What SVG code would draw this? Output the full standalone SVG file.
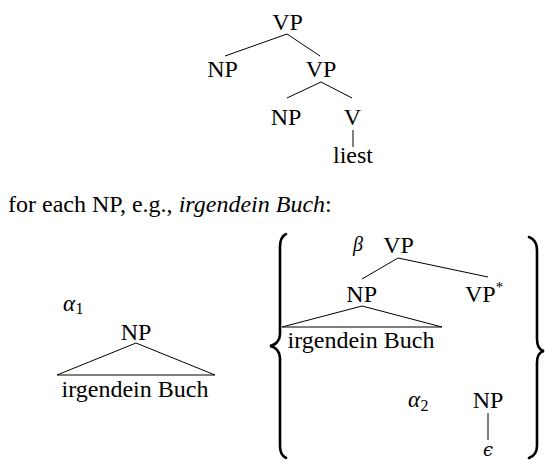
<svg xmlns="http://www.w3.org/2000/svg" width="545" height="460" viewBox="0 0 545 460">
<style>
text{font-family:'Liberation Serif','Tinos','Times New Roman',serif;font-size:24px;fill:#000}
.m{text-anchor:middle}
.it{font-style:italic}
.edge{stroke:#000;stroke-width:1;fill:none}
.brace{stroke:#000;stroke-width:2.6;fill:none;stroke-linecap:round}
</style>
<rect width="545" height="460" fill="#fff"/>
<g id="connectors">
<line class="edge" x1="287" y1="34" x2="225" y2="56"/>
<line class="edge" x1="287" y1="34" x2="320" y2="56"/>
<line class="edge" x1="321" y1="82" x2="287" y2="98"/>
<line class="edge" x1="321" y1="82" x2="352" y2="98"/>
<line class="edge" x1="353" y1="130" x2="353" y2="147"/>
<polygon class="edge" points="136,343 57,375 215,375"/>
<line class="edge" x1="398" y1="258" x2="362" y2="279"/>
<line class="edge" x1="398" y1="258" x2="488" y2="277"/>
<polygon class="edge" points="362,306 282,327 442,327"/>
<line class="edge" x1="488" y1="413" x2="488" y2="440"/>
</g>
<g id="vp-top"><text class="m" x="287.5" y="30">VP</text></g>
<g id="np-1"><text class="m" x="222.5" y="77">NP</text></g>
<g id="vp-mid"><text class="m" x="321" y="77">VP</text></g>
<g id="np-2"><text class="m" x="286" y="125">NP</text></g>
<g id="v"><text class="m" x="352.5" y="125">V</text></g>
<g id="liest"><text class="m" x="353" y="163">liest</text></g>
<g id="caption"><text x="8" y="212">for each NP, e.g., <tspan class="it">irgendein Buch</tspan>:</text></g>
<g id="alpha1">
<text class="it" x="63" y="311" style="font-size:23px">α</text>
<text x="75.5" y="314" style="font-size:16px">1</text>
</g>
<g id="alpha1-np"><text class="m" x="136" y="340">NP</text></g>
<g id="alpha1-yield"><text class="m" x="135" y="397">irgendein Buch</text></g>
<g id="braces">
<path class="brace" d="M286,234 C282,236 280,240 280,247 L280,334 C280,340 276,345 270,346 C276,347 280,352 280,358 L280,446 C280,452 282,456 286,458"/>
<path class="brace" d="M529,237 C534,239 537,243 537,250 L537,339 C537,345 539,350 544,351 C539,352 537,357 537,363 L537,446 C537,452 534,456 529,458"/>
</g>
<g id="beta"><text class="it" x="353" y="251" style="font-size:20px">β</text></g>
<g id="beta-vp"><text class="m" x="398.5" y="253">VP</text></g>
<g id="beta-np"><text class="m" x="361.7" y="302">NP</text></g>
<g id="beta-foot"><text x="465" y="302">VP<tspan style="font-size:15px" dy="-10">*</tspan></text></g>
<g id="beta-yield"><text class="m" x="361" y="348">irgendein Buch</text></g>
<g id="alpha2">
<text class="it" x="408" y="407" style="font-size:23px">α</text>
<text x="420.5" y="411" style="font-size:16px">2</text>
</g>
<g id="alpha2-np"><text class="m" x="488" y="408">NP</text></g>
<g id="epsilon"><text class="m it" x="488" y="456" style="font-family:'DejaVu Serif',serif;font-size:18px">ϵ</text></g>
</svg>
